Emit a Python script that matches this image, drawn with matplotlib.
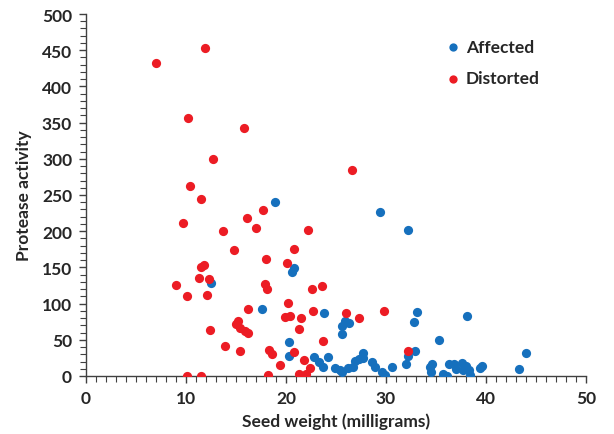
import matplotlib
matplotlib.use("Agg")
import matplotlib.pyplot as plt
from matplotlib.ticker import MultipleLocator

plt.rcParams['font.family'] = ['Lato', 'DejaVu Sans']

affected_x = [18.9, 29.4, 32.2, 20.8, 20.6, 12.5, 17.6, 23.8, 33.1, 38.1, 25.9, 26.3, 25.6, 25.6,
              32.8, 35.3, 20.3, 32.9, 32.2, 32.0, 44.0, 43.3, 20.3, 22.8, 24.2, 23.3, 23.7, 24.9,
              25.4, 25.6, 26.2, 26.7, 26.9, 27.3, 27.7, 27.7, 28.6, 28.9, 29.6, 29.9, 30.6, 34.4,
              34.6, 34.5, 35.7, 36.1, 36.3, 36.8, 37.0, 37.6, 38.0, 37.7, 38.3, 38.4, 39.4, 39.6]
affected_y = [240, 226, 202, 149, 144, 128, 92, 87, 89, 83, 76, 73, 69, 58,
              74, 50, 47, 34, 28, 17, 32, 9, 27, 26, 26, 19, 12, 11,
              8, 5, 11, 13, 21, 23, 32, 25, 19, 12, 6, 1, 13, 12,
              17, 6, 3, 0, 16, 17, 9, 18, 14, 8, 8, 1, 11, 14]

distorted_x = [7.0, 11.9, 10.2, 15.8, 12.7, 10.4, 11.5, 26.6, 17.7, 9.7, 16.1, 17.0, 13.7, 22.2,
               14.8, 20.8, 18.0, 20.1, 11.5, 11.8, 11.3, 12.3, 9.0, 10.1, 12.1, 17.9, 18.1, 22.6,
               23.6, 16.2, 20.2, 22.7, 19.9, 20.4, 21.5, 26.0, 27.3, 29.8, 15.2, 15.0, 15.4, 15.9,
               16.2, 12.4, 21.3, 23.7, 13.9, 15.4, 18.3, 18.6, 20.8, 32.2, 21.8, 19.4, 22.4, 21.3,
               22.0, 18.2, 10.1, 11.5]
distorted_y = [433, 453, 356, 342, 300, 263, 245, 284, 229, 212, 218, 204, 200, 201,
               174, 176, 162, 156, 151, 153, 136, 134, 126, 110, 112, 127, 120, 120,
               125, 93, 101, 90, 81, 83, 80, 87, 80, 90, 76, 72, 66, 62,
               60, 64, 65, 48, 42, 34, 36, 31, 33, 35, 22, 15, 11, 3,
               3, 1, 0, 0]

x_label = "Seed weight (milligrams)"
y_label = "Protease activity"
series_names = ["Affected", "Distorted"]

blue = '#1670BD'
red = '#EC1C24'
axis_col = '#404040'
text_col = '#262626'

fig = plt.figure(figsize=(6.14, 4.35), dpi=100)
ax = fig.add_axes([86/614, 1-377/435, 500/614, 362/435])

ax.scatter(affected_x, affected_y, s=44, color=blue, label=series_names[0], zorder=3, linewidths=0)
ax.scatter(distorted_x, distorted_y, s=44, color=red, label=series_names[1], zorder=3, linewidths=0)

ax.set_xlim(0, 50)
ax.set_ylim(0, 500)
ax.xaxis.set_major_locator(MultipleLocator(10))
ax.xaxis.set_minor_locator(MultipleLocator(1))
ax.yaxis.set_major_locator(MultipleLocator(50))
ax.yaxis.set_minor_locator(MultipleLocator(10))

for s in ['top', 'right']:
    ax.spines[s].set_visible(False)
for s in ['left', 'bottom']:
    ax.spines[s].set_color(axis_col)
    ax.spines[s].set_linewidth(1.0)

ax.tick_params(which='major', direction='out', length=5, width=1.0, color=axis_col,
               labelsize=12.5, labelcolor=text_col, pad=5)
ax.tick_params(which='minor', direction='out', length=4, width=0.8, color=axis_col)
for lbl in ax.get_xticklabels() + ax.get_yticklabels():
    lbl.set_fontweight('bold')

ax.set_xlabel(x_label, fontsize=12.5, fontweight='bold', color=text_col, labelpad=5)
ax.set_ylabel(y_label, fontsize=12.5, fontweight='bold', color=text_col, labelpad=7)

leg = ax.legend(loc='upper left', bbox_to_anchor=(0.685, 0.975), frameon=False,
                handlelength=1.0, handletextpad=0.25, labelspacing=0.9, markerscale=0.9,
                prop={'weight': 'bold', 'size': 12.5})
for t in leg.get_texts():
    t.set_color(text_col)

fig.savefig('out.png', dpi=100)
